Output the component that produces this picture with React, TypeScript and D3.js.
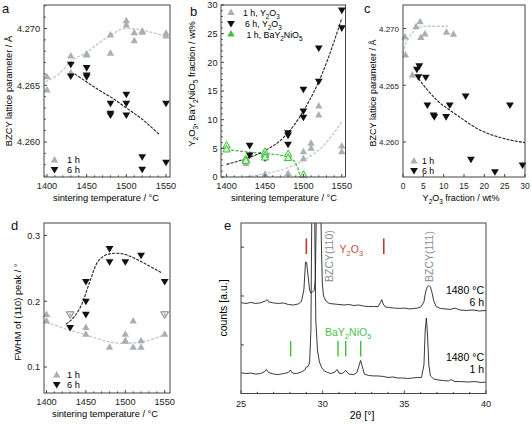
import React from 'react';
import * as d3 from 'd3';

const FONT = "'Liberation Sans', Arial, Helvetica, sans-serif";
const GREY = '#a9b0b5';
const GREY_LINE = '#c2c8cb';
const BLACK = '#111111';
const GREEN = '#3cbf3c';
const RED = '#c0392b';
const AXIS = '#444444';
const TICK_FS = 9.2;
const TITLE_FS = 9.3;

// ---------- Panel a ----------
const aTemp1h = [1400, 1400, 1430, 1430, 1450, 1450, 1480, 1480, 1500, 1500, 1510, 1510, 1520, 1520, 1550, 1550];
const aLat1h = [4.26575, 4.26458, 4.26758, 4.26611, 4.26775, 4.26767, 4.26943, 4.26781, 4.27069, 4.27031, 4.26963, 4.26893, 4.26978, 4.26967, 4.26958, 4.26934];
const aTemp6h = [1430, 1430, 1450, 1450, 1450, 1480, 1480, 1480, 1500, 1500, 1500, 1520, 1520, 1550, 1550];
const aLat6h = [4.26685, 4.26581, 4.26655, 4.2659, 4.26575, 4.26341, 4.26253, 4.26238, 4.2642, 4.26341, 4.26238, 4.2587, 4.2576, 4.26341, 4.25821];
const aFit1hT = [1398, 1415, 1430, 1450, 1465, 1480, 1498, 1517, 1535, 1550];
const aFit1hV = [4.2653, 4.266, 4.2671, 4.2679, 4.2687, 4.2694, 4.27, 4.2699, 4.2696, 4.2693];
const aFit6hT = [1435, 1465, 1486, 1498, 1520, 1541];
const aFit6hV = [4.266, 4.2646, 4.2637, 4.2631, 4.262, 4.2607];

const tempTicks = [1400, 1450, 1500, 1550];
const latTicks = [4.26, 4.265, 4.27];
const latTickLabels = ['4.260', '4.265', '4.270'];

// ---------- Panel b ----------
const b1hT = [1425, 1450, 1480, 1500, 1500, 1510, 1510, 1520, 1520, 1550, 1550];
const b1hV = [2.3, 0.5, 0.6, 3.2, 4.4, 5.0, 5.9, 10.8, 12.4, 4.4, 5.4];
const b6hT = [1430, 1430, 1450, 1480, 1480, 1480, 1500, 1500, 1500, 1520, 1520, 1550, 1550];
const b6hV = [5.5, 3.8, 3.3, 7.7, 7.3, 5.7, 15.3, 11.5, 10.4, 22.5, 16.7, 29.1, 26.0];
const bGreenT = [1400, 1400, 1425, 1425, 1450, 1450, 1450, 1480, 1480, 1500];
const bGreenV = [5.5, 4.8, 3.1, 2.8, 4.4, 3.8, 3.4, 4.0, 3.3, 0.4];
const bFit6hT = [1400, 1425, 1450, 1475, 1500, 1525, 1550];
const bFit6hV = [2.2, 3.2, 4.6, 7.0, 11.5, 18.2, 27.7];
const bFit1hT = [1425, 1450, 1475, 1500, 1525, 1550];
const bFit1hV = [0, 0.6, 1.4, 2.9, 5.3, 9.6];
const bFitGT = [1400, 1425, 1450, 1470, 1480, 1487, 1492, 1496];
const bFitGV = [4.8, 4.4, 4.1, 3.8, 3.5, 2.9, 1.8, 0];
const fracTicks = [0, 5, 10, 15, 20, 25, 30];

// ---------- Panel c ----------
const c1hX = [0.5, 0.6, 2.3, 3.2, 4.2, 4.4, 5.4, 10.7, 12.4];
const c1hV = [4.26925, 4.26767, 4.2659, 4.27016, 4.2706, 4.2692, 4.26952, 4.26967, 4.2695];
const c6hX = [3.4, 4.0, 3.8, 5.6, 6.0, 7.5, 7.7, 10.6, 11.5, 15.4, 16.7, 22.6, 26.3, 29.4];
const c6hV = [4.26641, 4.2667, 4.26575, 4.2657, 4.26326, 4.26238, 4.26223, 4.26223, 4.26326, 4.26405, 4.25848, 4.25738, 4.26326, 4.25797];
const cFit1hX = [0, 0.5, 1.3, 2.3, 3.4, 5.6, 8, 11.1];
const cFit1hV = [4.2678, 4.2685, 4.2691, 4.2696, 4.27, 4.2702, 4.2702, 4.2702];
const cFit6hX = [3.8, 6, 8.3, 13.2, 18.9, 24.6, 30];
const cFit6hV = [4.26561, 4.26458, 4.2637, 4.26238, 4.26106, 4.26033, 4.25994];
const cTicks = [0, 5, 10, 15, 20, 25, 30];

// ---------- Panel d ----------
const d1hT = [1400, 1400, 1450, 1450, 1480, 1500, 1500, 1500, 1510, 1510, 1520, 1520, 1550];
const d1hV = [0.18, 0.17, 0.16, 0.15, 0.13, 0.15, 0.14, 0.139, 0.17, 0.13, 0.14, 0.13, 0.15];
const d6hT = [1430, 1450, 1450, 1450, 1480, 1480, 1500, 1520, 1550];
const d6hV = [0.16, 0.23, 0.2, 0.18, 0.28, 0.26, 0.26, 0.27, 0.23];
const dOverlapT = [1430, 1550];
const dOverlapV = [0.18, 0.18];
const dFit6hT = [1425, 1446, 1455, 1465, 1480, 1490, 1500, 1514, 1530, 1547];
const dFit6hV = [0.165, 0.199, 0.23, 0.26, 0.272, 0.273, 0.271, 0.264, 0.254, 0.2425];
const dFit1hT = [1400, 1430, 1450, 1480, 1500, 1520, 1550];
const dFit1hV = [0.168, 0.156, 0.149, 0.138, 0.136, 0.138, 0.149];
const fwhmTicks = [0.1, 0.2, 0.3];

// ---------- Panel e (XRD) ----------
const e6hTheta = [25.0, 25.3, 25.6, 25.9, 26.2, 26.5, 26.6, 26.7, 27.0, 27.3, 27.6, 27.9, 28.2, 28.5, 28.7, 28.85, 28.95, 29.02, 29.1, 29.2, 29.28, 29.38, 29.48, 29.55, 29.62, 29.7, 29.82, 29.88, 29.93, 29.98, 30.05, 30.2, 30.4, 30.7, 31.0, 31.3, 31.6, 31.9, 32.2, 32.5, 32.8, 33.1, 33.4, 33.55, 33.62, 33.7, 33.85, 34.1, 34.4, 34.7, 35.0, 35.3, 35.6, 35.8, 36.0, 36.2, 36.3, 36.4, 36.5, 36.6, 36.7, 36.8, 36.95, 37.2, 37.5, 37.8, 38.1, 38.4, 38.8, 39.2, 39.6, 40.0];
const e6hCounts = [53.3, 52.8, 53.4, 52.8, 53.2, 54.3, 55.1, 53.7, 53.1, 52.8, 53.1, 52.2, 51.9, 52.5, 54.0, 60.7, 77.1, 76.8, 69.5, 60.7, 58.9, 59.5, 60.5, 66.6, 110, 140, 140, 110, 84.2, 64.8, 57.2, 54.3, 52.8, 52.5, 52.2, 51.9, 52.2, 51.6, 51.9, 51.3, 51.0, 51.0, 51.0, 53.7, 55.1, 52.5, 50.7, 50.4, 50.1, 49.9, 50.1, 49.6, 49.9, 50.1, 50.7, 53.7, 59.5, 62.5, 63.3, 62.5, 58.9, 54.3, 51.0, 49.9, 49.6, 49.3, 50.1, 49.0, 48.7, 49.0, 48.4, 48.7];
const e1hTheta = [25.0, 25.3, 25.6, 25.9, 26.2, 26.45, 26.55, 26.7, 27.0, 27.3, 27.6, 27.9, 28.02, 28.15, 28.4, 28.7, 28.9, 29.0, 29.1, 29.2, 29.28, 29.33, 29.38, 29.48, 29.53, 29.58, 29.68, 29.8, 29.95, 30.1, 30.3, 30.5, 30.75, 30.88, 31.0, 31.2, 31.42, 31.6, 31.9, 32.1, 32.22, 32.32, 32.42, 32.55, 32.8, 33.1, 33.4, 33.7, 34.0, 34.3, 34.6, 34.9, 35.2, 35.5, 35.8, 36.05, 36.2, 36.28, 36.35, 36.42, 36.5, 36.6, 36.8, 37.1, 37.4, 37.7, 37.85, 38.1, 38.5, 38.9, 39.3, 39.7, 40.0];
const e1hCounts = [12.2, 11.7, 12.0, 11.4, 11.7, 12.9, 14.1, 12.3, 11.4, 11.1, 11.7, 12.3, 13.8, 12.0, 11.7, 12.6, 13.8, 15.5, 15.8, 17.9, 37.2, 100, 140, 140, 84.2, 43.1, 25.5, 18.5, 15.0, 13.2, 12.3, 11.7, 12.6, 14.1, 12.0, 11.7, 13.5, 11.4, 11.1, 12.3, 16.1, 19.4, 16.1, 11.4, 10.6, 10.3, 10.3, 10.0, 9.4, 9.7, 9.1, 9.1, 8.8, 9.1, 9.4, 9.4, 16.7, 37.2, 44.3, 34.3, 16.7, 10.3, 8.5, 7.9, 7.6, 7.3, 8.2, 7.0, 7.0, 6.7, 7.0, 6.5, 6.7];
const y2o3Refs = [29.0, 33.74];
const bayRefs = [28.04, 30.94, 31.41, 32.33];
const thetaTicks = [25, 30, 35, 40];
const countTicks = [28.5, 57.2, 85.8];

// ---------- helpers ----------
const upTri = (x: number, y: number) => `M${x},${y - 4}L${x + 3.7},${y + 2.5}L${x - 3.7},${y + 2.5}Z`;
const downTri = (x: number, y: number) => `M${x},${y + 4}L${x + 3.9},${y - 2.6}L${x - 3.9},${y - 2.6}Z`;

const zip = (a: number[], b: number[]) => a.map((v, i) => [v, b[i]] as [number, number]);

// "Y_2O_3" -> Y, sub 2, O, sub 3
function richParts(s: string): [string, boolean][] {
  const out: [string, boolean][] = [];
  let buf = '';
  for (let i = 0; i < s.length; i++) {
    if (s[i] === '_' && i + 1 < s.length) {
      if (buf) out.push([buf, false]);
      buf = '';
      out.push([s[i + 1], true]);
      i++;
    } else buf += s[i];
  }
  if (buf) out.push([buf, false]);
  return out;
}

function Rich({ s, sub }: { s: string; sub: number }) {
  let shift = 0;
  const parts = richParts(s);
  return (
    <>
      {parts.map(([t, isSub], i) => {
        const target = isSub ? sub * 0.35 : 0;
        const dy = target - shift;
        shift = target;
        return (
          <tspan key={i} dy={dy === 0 ? undefined : dy} fontSize={isSub ? sub * 0.72 : undefined}>
            {t}
          </tspan>
        );
      })}
    </>
  );
}

function Frame({ x0, x1, y0, y1 }: { x0: number; x1: number; y0: number; y1: number }) {
  return <rect x={x0} y={y0} width={x1 - x0} height={y1 - y0} fill="none" stroke={AXIS} strokeWidth={1} />;
}

function XTicks({ scale, values, labels, y, yLabel, len = 3, minor, fs = TICK_FS }: any) {
  return (
    <g>
      {values.map((v: number, i: number) => (
        <g key={i}>
          <line x1={scale(v)} x2={scale(v)} y1={y} y2={y - len} stroke={AXIS} />
          <text x={scale(v)} y={yLabel} textAnchor="middle" fontSize={fs} fill="#222">{labels ? labels[i] : String(v)}</text>
        </g>
      ))}
      {(minor || []).map((v: number, i: number) => (
        <line key={'m' + i} x1={scale(v)} x2={scale(v)} y1={y} y2={y - 1.6} stroke={AXIS} />
      ))}
    </g>
  );
}

function YTicks({ scale, values, labels, x, xLabel, len = 3, minor, fs = TICK_FS }: any) {
  return (
    <g>
      {values.map((v: number, i: number) => (
        <g key={i}>
          <line x1={x} x2={x + len} y1={scale(v)} y2={scale(v)} stroke={AXIS} />
          {labels !== null && (
            <text x={xLabel} y={scale(v) + 3.3} textAnchor="end" fontSize={fs} fill="#222">{labels ? labels[i] : String(v)}</text>
          )}
        </g>
      ))}
      {(minor || []).map((v: number, i: number) => (
        <line key={'m' + i} x1={x} x2={x + 1.8} y1={scale(v)} y2={scale(v)} stroke={AXIS} />
      ))}
    </g>
  );
}

export default function App() {
  const aX = d3.scaleLinear().domain([1400, 1550]).range([47, 166]);
  const aY = d3.scaleLinear().domain([4.26, 4.27]).range([142, 28.5]);
  const bX = d3.scaleLinear().domain([1400, 1550]).range([226.6, 341.8]);
  const bY = d3.scaleLinear().domain([0, 30]).range([177, 5]);
  const cX = d3.scaleLinear().domain([0, 30]).range([403, 525]);
  const cY = aY;
  const dX = d3.scaleLinear().domain([1400, 1550]).range([46.5, 164.7]);
  const dY = d3.scaleLinear().domain([0.1, 0.3]).range([367, 235.5]);
  const eX = d3.scaleLinear().domain([25, 40]).range([241, 486]);
  const eY = d3.scaleLinear().domain([0, 100]).range([393.5, 223]);

  const curve = (sx: any, sy: any) => d3.line<[number, number]>().x((d) => sx(d[0])).y((d) => sy(d[1])).curve(d3.curveMonotoneX);
  const straight = (sx: any, sy: any) => d3.line<[number, number]>().x((d) => sx(d[0])).y((d) => sy(d[1]));

  const tempMinor = d3.range(1400, 1551, 10).filter((v) => v % 50 !== 0);
  const fracMinor = d3.range(1, 30).filter((v) => v % 5 !== 0);
  const latMinor = [4.257, 4.258, 4.259, 4.261, 4.262, 4.263, 4.264, 4.266, 4.267, 4.268, 4.269, 4.271, 4.272];

  return (
    <svg width={531} height={424} style={{ position: 'absolute', left: 0, top: 0, background: '#fff' }} fontFamily={FONT}>
      <rect x={0} y={0} width={531} height={424} fill="#fff" />
      <defs>
        <clipPath id="clipE"><rect x={241} y={223} width={245} height={170.5} /></clipPath>
        <clipPath id="clipB"><rect x={221} y={5} width={124.5} height={172} /></clipPath>
      </defs>

      {/* ================= Panel a ================= */}
      <g>
        <text x={2} y={13} fontSize={13} fill="#111">a</text>
        <path d={curve(aX, aY)(zip(aFit1hT, aFit1hV)) || ''} fill="none" stroke={GREY_LINE} strokeWidth={1.3} strokeDasharray="3,1.5" />
        <path d={curve(aX, aY)(zip(aFit6hT, aFit6hV)) || ''} fill="none" stroke="#222" strokeWidth={1.1} strokeDasharray="3,1.2" />
        {aTemp1h.map((t, i) => <path key={'a1' + i} d={upTri(aX(t), aY(aLat1h[i]))} fill={GREY} />)}
        {aTemp6h.map((t, i) => <path key={'a6' + i} d={downTri(aX(t), aY(aLat6h[i]))} fill={BLACK} />)}
        <path d={upTri(54.5, 160)} fill={GREY} />
        <text x={67} y={163.3} fontSize={TITLE_FS}>1 h</text>
        <path d={downTri(54.5, 169.5)} fill={BLACK} />
        <text x={67} y={172.8} fontSize={TITLE_FS}>6 h</text>
        <Frame x0={44} x1={170} y0={5} y1={177} />
        <XTicks scale={aX} values={tempTicks} y={177} yLabel={188.5} minor={tempMinor} />
        <YTicks scale={aY} values={latTicks} labels={latTickLabels} x={44} xLabel={40} minor={latMinor} />
        <text x={106} y={201} fontSize={TITLE_FS} textAnchor="middle">sintering temperature / °C</text>
        <text transform="translate(11.5,91) rotate(-90)" fontSize={TITLE_FS} textAnchor="middle">BZCY lattice parameter / Å</text>
      </g>

      {/* ================= Panel b ================= */}
      <g>
        <text x={190} y={16} fontSize={13} fill="#111">b</text>
        <g clipPath="url(#clipB)">
          <path d={curve(bX, bY)(zip(bFit1hT, bFit1hV)) || ''} fill="none" stroke={GREY_LINE} strokeWidth={1.3} strokeDasharray="3,1.5" />
          <path d={curve(bX, bY)(zip(bFitGT, bFitGV)) || ''} fill="none" stroke={GREEN} strokeWidth={1.2} strokeDasharray="3,1.5" />
          <path d={curve(bX, bY)(zip(bFit6hT, bFit6hV)) || ''} fill="none" stroke="#222" strokeWidth={1.1} strokeDasharray="3,1.2" />
        </g>
        {b1hT.map((t, i) => <path key={'b1' + i} d={upTri(bX(t), bY(b1hV[i]))} fill={GREY} />)}
        {b6hT.map((t, i) => <path key={'b6' + i} d={downTri(bX(t), bY(b6hV[i]))} fill={BLACK} />)}
        {bGreenT.map((t, i) => <path key={'bg' + i} d={upTri(bX(t), bY(bGreenV[i]))} fill="#d9f5d3" stroke={GREEN} strokeWidth={1} />)}
        <path d={upTri(231, 12.5)} fill={GREY} />
        <text x={243} y={15.5} fontSize={8.8}><Rich s="1 h, Y_2O_3" sub={8.8} /></text>
        <path d={downTri(231, 23.5)} fill={BLACK} />
        <text x={245} y={26.5} fontSize={8.8}><Rich s="6 h, Y_2O_3" sub={8.8} /></text>
        <path d={upTri(231, 34)} fill={GREEN} />
        <text x={246.5} y={37.5} fontSize={8.8}><Rich s="1 h, BaY_2NiO_5" sub={8.8} /></text>
        <Frame x0={221} x1={345.5} y0={5} y1={177} />
        <XTicks scale={bX} values={tempTicks} y={177} yLabel={188.5} minor={tempMinor} />
        <YTicks scale={bY} values={fracTicks} x={221} xLabel={217.5} minor={fracMinor} />
        <text x={284} y={201} fontSize={TITLE_FS} textAnchor="middle">sintering temperature / °C</text>
        <text transform="translate(195,84) rotate(-90)" fontSize={TITLE_FS} textAnchor="middle">
          <Rich s="Y_2O_3, BaY_2NiO_5 fraction / wt%" sub={TITLE_FS} />
        </text>
      </g>

      {/* ================= Panel c ================= */}
      <g>
        <text x={364} y={13} fontSize={13} fill="#111">c</text>
        <path d={curve(cX, cY)(zip(cFit1hX, cFit1hV)) || ''} fill="none" stroke={GREY_LINE} strokeWidth={1.3} strokeDasharray="3,1.5" />
        <path d={curve(cX, cY)(zip(cFit6hX, cFit6hV)) || ''} fill="none" stroke="#222" strokeWidth={1.1} strokeDasharray="3,1.2" />
        {c1hX.map((x, i) => <path key={'c1' + i} d={upTri(cX(x), cY(c1hV[i]))} fill={GREY} />)}
        {c6hX.map((x, i) => <path key={'c6' + i} d={downTri(cX(x), cY(c6hV[i]))} fill={BLACK} />)}
        <path d={upTri(414, 161)} fill={GREY} />
        <text x={422} y={164.3} fontSize={8.8}>1 h</text>
        <path d={downTri(414, 170.5)} fill={BLACK} />
        <text x={422} y={173.8} fontSize={8.8}>6 h</text>
        <Frame x0={403} x1={525} y0={5} y1={177} />
        <XTicks scale={cX} values={cTicks} y={177} yLabel={188.5} fs={8.5} />
        <YTicks scale={cY} values={latTicks} labels={latTickLabels} x={403} xLabel={399} fs={8} />
        <text x={461} y={201} fontSize={9} textAnchor="middle"><Rich s="Y_2O_3 fraction / wt%" sub={9} /></text>
        <text transform="translate(375.5,93) rotate(-90)" fontSize={9} textAnchor="middle">BZCY lattice parameter / Å</text>
      </g>

      {/* ================= Panel d ================= */}
      <g>
        <text x={11} y={230} fontSize={13} fill="#111">d</text>
        <path d={curve(dX, dY)(zip(dFit1hT, dFit1hV)) || ''} fill="none" stroke={GREY_LINE} strokeWidth={1.3} strokeDasharray="3,1.5" />
        <path d={curve(dX, dY)(zip(dFit6hT, dFit6hV)) || ''} fill="none" stroke="#222" strokeWidth={1.1} strokeDasharray="3,1.2" />
        {d1hT.map((t, i) => <path key={'d1' + i} d={upTri(dX(t), dY(d1hV[i]))} fill={GREY} />)}
        {d6hT.map((t, i) => <path key={'d6' + i} d={downTri(dX(t), dY(d6hV[i]))} fill={BLACK} />)}
        {dOverlapT.map((t, i) => (
          <g key={'do' + i}>
            <path d={downTri(dX(t), dY(dOverlapV[i]))} fill="#f2f3f4" stroke="#6a6f73" strokeWidth={0.9} />
            <path d={upTri(dX(t), dY(dOverlapV[i]) + 0.5)} transform={`translate(${dX(t)},${dY(dOverlapV[i])}) scale(0.45) translate(${-dX(t)},${-dY(dOverlapV[i])})`} fill={GREY} />
          </g>
        ))}
        <path d={upTri(56.7, 375)} fill={GREY} />
        <text x={67} y={378.3} fontSize={TITLE_FS}>1 h</text>
        <path d={downTri(56.7, 384.5)} fill={BLACK} />
        <text x={67} y={387.8} fontSize={TITLE_FS}>6 h</text>
        <Frame x0={44} x1={170} y0={223} y1={393} />
        <XTicks scale={dX} values={tempTicks} y={393} yLabel={405} minor={tempMinor} />
        <YTicks scale={dY} values={fwhmTicks} x={44} xLabel={40} />
        <text x={105} y={417} fontSize={TITLE_FS} textAnchor="middle">sintering temperature / °C</text>
        <text transform="translate(21,312) rotate(-90)" fontSize={TITLE_FS} textAnchor="middle">FWHM of (110) peak / °</text>
      </g>

      {/* ================= Panel e ================= */}
      <g>
        <text x={224} y={230} fontSize={13} fill="#111">e</text>
        <g clipPath="url(#clipE)">
          <path d={straight(eX, eY)(zip(e6hTheta, e6hCounts)) || ''} fill="none" stroke="#222" strokeWidth={0.9} />
          <path d={straight(eX, eY)(zip(e1hTheta, e1hCounts)) || ''} fill="none" stroke="#222" strokeWidth={0.9} />
        </g>
        {y2o3Refs.map((t, i) => (
          <line key={'r' + i} x1={eX(t)} x2={eX(t)} y1={238.5} y2={254} stroke={RED} strokeWidth={1.6} />
        ))}
        {bayRefs.map((t, i) => (
          <line key={'g' + i} x1={eX(t)} x2={eX(t)} y1={341} y2={356.5} stroke={GREEN} strokeWidth={1.4} />
        ))}
        <text x={339.5} y={252.5} fontSize={10.5} fill="#cc4a3c"><Rich s="Y_2O_3" sub={10.5} /></text>
        <text x={325} y={335.5} fontSize={10.5} fill="#4cc24c"><Rich s="BaY_2NiO_5" sub={10.5} /></text>
        <text transform="translate(332.5,282) rotate(-90)" fontSize={10.5} fill="#848c92">BZCY(110)</text>
        <text transform="translate(432.5,282) rotate(-90)" fontSize={10.5} fill="#848c92">BZCY(111)</text>
        <text x={484} y={294} fontSize={10.5} textAnchor="end">1480 °C</text>
        <text x={484} y={305.5} fontSize={10.5} textAnchor="end">6 h</text>
        <text x={484} y={360.5} fontSize={10.5} textAnchor="end">1480 °C</text>
        <text x={484} y={372.5} fontSize={10.5} textAnchor="end">1 h</text>
        <Frame x0={241} x1={486} y0={223} y1={393.5} />
        <XTicks scale={eX} values={thetaTicks} y={393.5} yLabel={407} minor={d3.range(26, 40).filter((v) => v % 5 !== 0)} />
        <YTicks scale={eY} values={countTicks} labels={null} x={241} xLabel={0} />
        <text x={362} y={419} fontSize={10.5} textAnchor="middle">2θ [°]</text>
        <text transform="translate(227,308) rotate(-90)" fontSize={10.5} textAnchor="middle">counts [a.u.]</text>
      </g>
    </svg>
  );
}
